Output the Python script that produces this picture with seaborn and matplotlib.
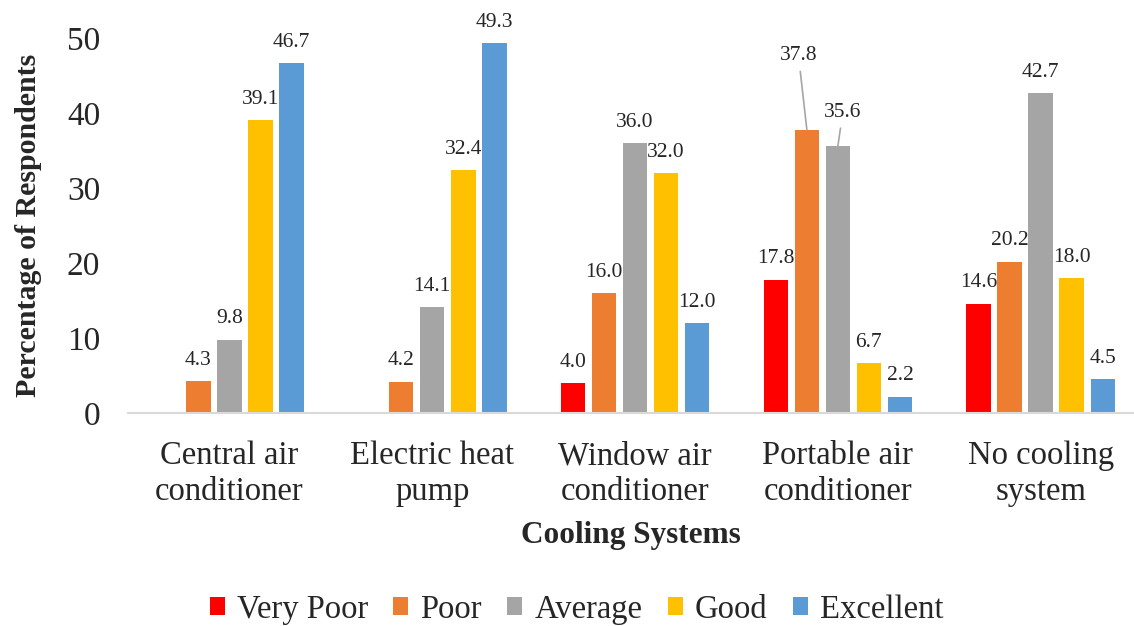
import matplotlib
matplotlib.use("Agg")
import matplotlib.pyplot as plt
import seaborn as sns
import pandas as pd

categories = ["Central air\nconditioner", "Electric heat\npump", "Window air\nconditioner",
              "Portable air\nconditioner", "No cooling\nsystem"]
ratings = ["Very Poor", "Poor", "Average", "Good", "Excellent"]
very_poor = [0.0, 0.0, 4.0, 17.8, 14.6]
poor = [4.3, 4.2, 16.0, 37.8, 20.2]
average = [9.8, 14.1, 36.0, 35.6, 42.7]
good = [39.1, 32.4, 32.0, 6.7, 18.0]
excellent = [46.7, 49.3, 12.0, 2.2, 4.5]
colors = ["#FF0000", "#ED7D31", "#A5A5A5", "#FFC000", "#5B9BD5"]

series = [very_poor, poor, average, good, excellent]
rows = []
for r, vals in zip(ratings, series):
    for c, v in zip(categories, vals):
        rows.append({"Cooling Systems": c, "Rating": r, "Value": v})
df = pd.DataFrame(rows)

sns.set_style("white")
plt.rcParams["font.family"] = ["Liberation Serif", "DejaVu Serif"]

fig = plt.figure(figsize=(11.34, 6.26), dpi=100)
ax = fig.add_axes([128 / 1134, (626 - 413) / 626, 1 - 128 / 1134, (413 - 38) / 626])

sns.barplot(data=df, x="Cooling Systems", y="Value", hue="Rating", hue_order=ratings,
            palette=colors, saturation=1, width=0.765, gap=0.21, ax=ax, legend=True,
            edgecolor="none", linewidth=0)

ax.set_ylim(0, 50)
ax.set_xlim(-0.5, 4.46)
ax.set_yticks([0, 10, 20, 30, 40, 50])
ax.tick_params(axis="y", labelsize=24, length=0, pad=20)
ax.tick_params(axis="x", labelsize=23.5, length=0, pad=20)
for lab in ax.get_xticklabels():
    lab.set_linespacing(1.22)

for s in ["top", "right", "left"]:
    ax.spines[s].set_visible(False)
ax.spines["bottom"].set_color("#D9D9D9")
ax.spines["bottom"].set_linewidth(1.5)

ax.set_ylabel("Percentage of Respondents", fontsize=21.5, fontweight="bold", labelpad=18)
ax.set_xlabel("Cooling Systems", fontsize=22.5, fontweight="bold", labelpad=10)

special = {("Poor", 3): (-6, 53), ("Average", 3): (3.5, 24)}
for ri, (cont, r) in enumerate(zip(ax.containers, ratings)):
    for ci, bar in enumerate(cont):
        h = bar.get_height()
        if h <= 0:
            continue
        x = bar.get_x() + bar.get_width() / 2
        if (r, ci) in special:
            dx, dy = special[(r, ci)]
            ax.annotate(f"{h:.1f}", xy=(x, h), xytext=(dx, dy), textcoords="offset points",
                        ha="center", va="center", fontsize=15.5,
                        arrowprops=dict(arrowstyle="-", color="#A6A6A6", lw=1.2,
                                        shrinkA=2, shrinkB=0))
        else:
            ax.annotate(f"{h:.1f}", xy=(x, h), xytext=(0, 8), textcoords="offset points",
                        ha="center", va="bottom", fontsize=15.5)

handles, labels = ax.get_legend_handles_labels()
ax.legend(handles, labels, loc="lower center", bbox_to_anchor=(0.446, -0.60),
          ncol=5, frameon=False, fontsize=23.5, handlelength=0.46, handleheight=0.46,
          handletextpad=0.37, columnspacing=0.78, borderaxespad=0)

fig.savefig("out.png", dpi=100)
